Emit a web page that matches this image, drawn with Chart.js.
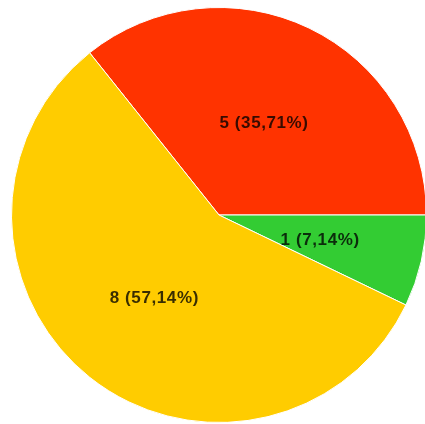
<!DOCTYPE html>
<html>
<head>
<meta charset="utf-8">
<script src="https://cdn.jsdelivr.net/npm/chart.js@4/dist/chart.umd.min.js"></script>
<style>
  html, body { margin: 0; padding: 0; background: #fff; overflow: hidden; }
  #wrap { position: relative; width: 438px; height: 424px; }
</style>
</head>
<body>
<div id="wrap"><canvas id="c"></canvas></div>
<script>
// Answer counts per option and their slice colours
const categories = ['A', 'B', 'C'];
const counts = [5, 1, 8];
const colors = ['#ff3300', '#33cc33', '#ffcc00'];
// Label text shown inside each slice
const sliceLabels = ['5 (35,71%)', '1 (7,14%)', '8 (57,14%)'];

// Draws the count/percentage text inside each slice
const sliceText = {
  id: 'sliceText',
  afterDatasetsDraw(chart) {
    const ctx = chart.ctx;
    const meta = chart.getDatasetMeta(0);
    ctx.save();
    ctx.font = 'bold 17px "Liberation Sans", Arial, sans-serif';
    ctx.letterSpacing = '0.6px';
    ctx.fillStyle = 'rgba(0,0,0,0.78)';
    ctx.textAlign = 'center';
    ctx.textBaseline = 'middle';
    meta.data.forEach((arc, i) => {
      const p = arc.getProps(['x', 'y', 'startAngle', 'endAngle', 'outerRadius'], true);
      const mid = (p.startAngle + p.endAngle) / 2;
      const r = p.outerRadius * 0.5;
      ctx.fillText(sliceLabels[i], p.x + Math.cos(mid) * r, p.y + Math.sin(mid) * r + 2);
    });
    ctx.restore();
  }
};

new Chart(document.getElementById('c'), {
  type: 'pie',
  data: {
    labels: categories,
    datasets: [{
      data: counts,
      backgroundColor: colors,
      borderColor: '#ffffff',
      borderWidth: 1
    }]
  },
  options: {
    responsive: true,
    maintainAspectRatio: false,
    animation: false,
    rotation: -38.57,
    layout: { padding: { top: 7, bottom: 1, left: 11, right: 11 } },
    plugins: {
      legend: { display: false },
      tooltip: { enabled: false }
    }
  },
  plugins: [sliceText]
});
</script>
</body>
</html>
